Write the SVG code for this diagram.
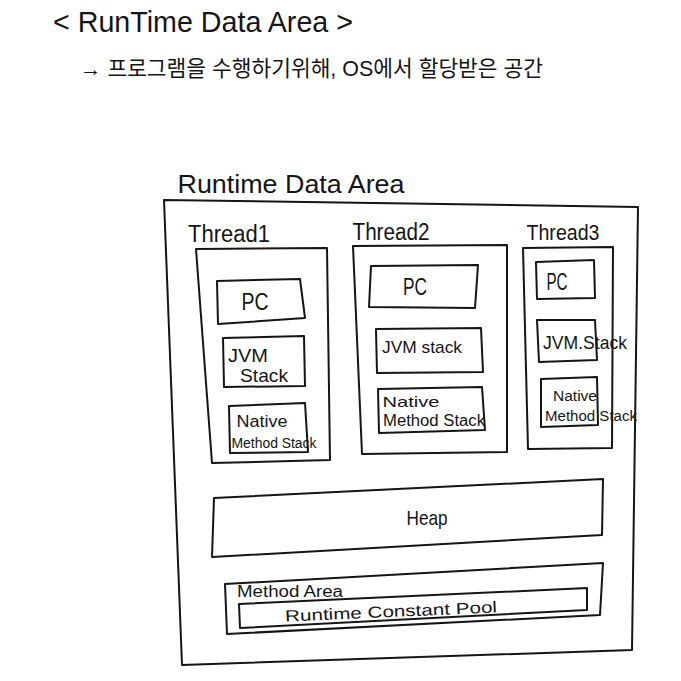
<svg xmlns="http://www.w3.org/2000/svg" width="681" height="681" viewBox="0 0 681 681">
<style>
.b{fill:none;stroke:#151515;stroke-width:2;stroke-linejoin:round;stroke-linecap:round}
.t{font-family:"Liberation Sans","Noto Sans",sans-serif;fill:#151515;text-anchor:middle}
.k{font-family:"Liberation Sans","Noto Sans CJK KR",sans-serif;fill:#151515}
</style>
<rect width="681" height="681" fill="#ffffff"/>
<g id="heading">
<text class="t" x="203" y="32" font-size="30" textLength="300" lengthAdjust="spacingAndGlyphs">&lt; RunTime Data Area &gt;</text>
<text class="k" x="80" y="76" font-size="22" textLength="463" lengthAdjust="spacingAndGlyphs">→ 프로그램을 수행하기위해, OS에서 할당받은 공간</text>
</g>
<g id="runtime-data-area">
<text class="t" x="291" y="193" font-size="25" textLength="227" lengthAdjust="spacingAndGlyphs">Runtime Data Area</text>
<polygon class="b" points="164,200 638,207 632,650 182,665"/>
</g>
<g id="thread1">
<text class="t" x="229" y="242" font-size="23" textLength="82" lengthAdjust="spacingAndGlyphs">Thread1</text>
<polygon class="b" points="196,249 327,248 330,460 212,463"/>
</g>
<g id="thread2">
<text class="t" x="391" y="240" font-size="23" textLength="77" lengthAdjust="spacingAndGlyphs">Thread2</text>
<polygon class="b" points="353,246 507,245 507,452 362,454"/>
</g>
<g id="thread3">
<text class="t" x="563" y="240" font-size="22" textLength="73" lengthAdjust="spacingAndGlyphs">Thread3</text>
<polygon class="b" points="523,248 613,247 612,448 528,449"/>
</g>
<g id="t1-pc">
<polygon class="b" points="217,281 300,279 305,318 218,324"/>
<text class="t" x="255" y="310" font-size="24" textLength="27" lengthAdjust="spacingAndGlyphs">PC</text>
</g>
<g id="t1-jvm-stack">
<polygon class="b" points="223,338 304,336 305,386 224,387"/>
<text class="t" x="248" y="362" font-size="19" textLength="40" lengthAdjust="spacingAndGlyphs">JVM</text>
<text class="t" x="264" y="382" font-size="19" textLength="48" lengthAdjust="spacingAndGlyphs">Stack</text>
</g>
<g id="t1-native-method-stack">
<polygon class="b" points="229,406 305,403 308,452 230,453"/>
<text class="t" x="262" y="427" font-size="16" textLength="51" lengthAdjust="spacingAndGlyphs">Native</text>
<text class="t" x="274" y="448" font-size="14" textLength="85" lengthAdjust="spacingAndGlyphs">Method Stack</text>
</g>
<g id="t2-pc">
<polygon class="b" points="371,266 478,265 475,308 369,307"/>
<text class="t" x="415" y="295" font-size="24" textLength="24" lengthAdjust="spacingAndGlyphs">PC</text>
</g>
<g id="t2-jvm-stack">
<polygon class="b" points="376,329 481,328 483,372 377,373"/>
<text class="t" x="422" y="353" font-size="17" textLength="80" lengthAdjust="spacingAndGlyphs">JVM stack</text>
</g>
<g id="t2-native-method-stack">
<polygon class="b" points="378,389 482,387 485,430 379,433"/>
<text class="t" x="411" y="407" font-size="15" textLength="57" lengthAdjust="spacingAndGlyphs">Native</text>
<text class="t" x="434" y="426" font-size="16" textLength="102" lengthAdjust="spacingAndGlyphs">Method Stack</text>
</g>
<g id="t3-pc">
<polygon class="b" points="536,262 594,260 595,298 537,299"/>
<text class="t" x="557" y="290" font-size="24" textLength="21" lengthAdjust="spacingAndGlyphs">PC</text>
</g>
<g id="t3-jvm-stack">
<polygon class="b" points="537,320 595,320 597,360 539,362"/>
<text class="t" x="585" y="349" font-size="19" textLength="84" lengthAdjust="spacingAndGlyphs">JVM.Stack</text>
</g>
<g id="t3-native-method-stack">
<polygon class="b" points="541,379 597,377 598,425 541,427"/>
<text class="t" x="575" y="401" font-size="14" textLength="44" lengthAdjust="spacingAndGlyphs">Native</text>
<text class="t" x="591" y="421" font-size="15" textLength="92" lengthAdjust="spacingAndGlyphs">Method Stack</text>
</g>
<g id="heap">
<polygon class="b" points="214,498 603,479 602,535 212,557"/>
<text class="t" x="427" y="525" font-size="21" textLength="41" lengthAdjust="spacingAndGlyphs">Heap</text>
</g>
<g id="method-area">
<polygon class="b" points="225,584 603,563 600,615 227,634"/>
<text class="k" x="237" y="597" font-size="16" textLength="106" lengthAdjust="spacingAndGlyphs">Method Area</text>
</g>
<g id="runtime-constant-pool">
<polygon class="b" points="239,604 587,588 587,610 240,628"/>
<text class="t" x="391" y="617" font-size="16" textLength="212" lengthAdjust="spacingAndGlyphs" transform="rotate(-2.5 391 611)">Runtime Constant Pool</text>
</g>
<g id="connectors"></g>
</svg>
